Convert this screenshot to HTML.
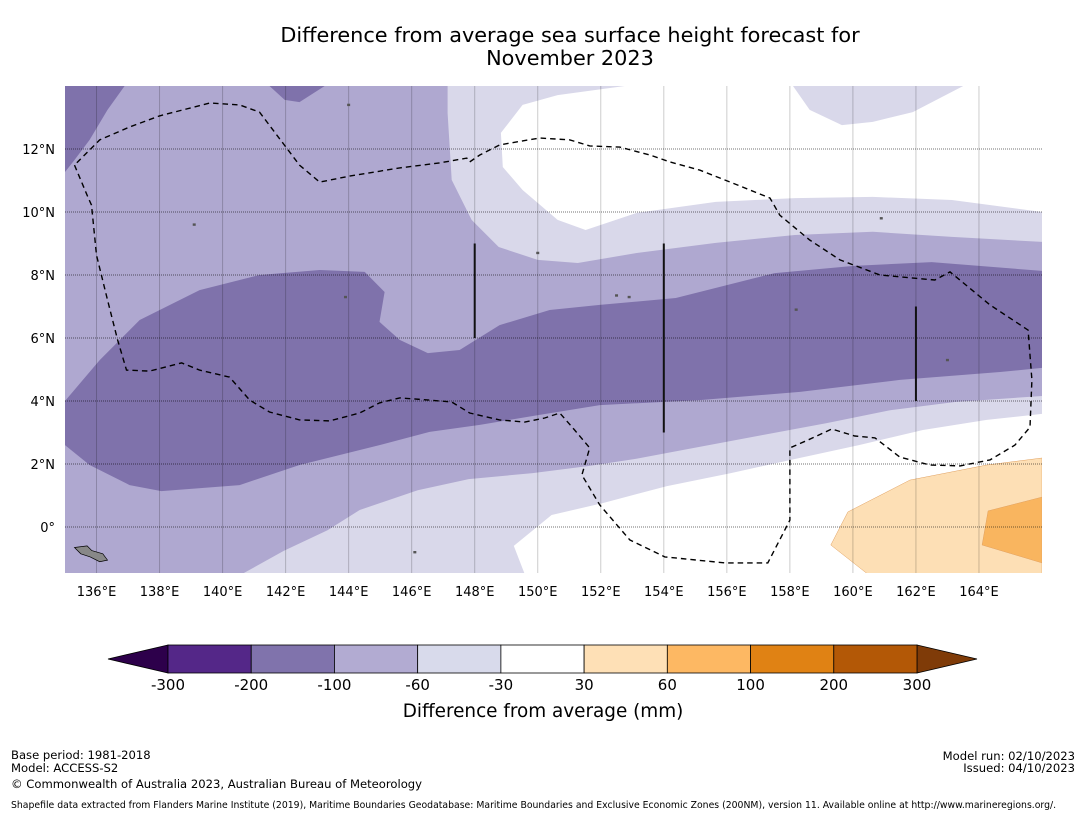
<!DOCTYPE html>
<html><head><meta charset="utf-8"><style>
body{margin:0;background:#fff;font-family:"Liberation Sans","DejaVu Sans",sans-serif;}
svg{display:block}
</style></head><body>
<svg id="chart" width="1085" height="816" viewBox="0 0 1085 816">
<text x="570" y="42" font-size="20.8" text-anchor="middle" font-family="DejaVu Sans, Liberation Sans, sans-serif">Difference from average sea surface height forecast for</text>
<text x="570" y="65" font-size="20.8" text-anchor="middle" font-family="DejaVu Sans, Liberation Sans, sans-serif">November 2023</text>
<defs><clipPath id="mapclip"><rect x="65" y="86" width="977" height="487"/></clipPath></defs>
<g id="map" clip-path="url(#mapclip)"></g>
<g id="grid"></g>
<g id="overlay" clip-path="url(#mapclip)"></g>
<g id="axes"></g>
<g id="colorbar"></g>
<text x="543" y="717" font-size="18.4" text-anchor="middle" font-family="DejaVu Sans, Liberation Sans, sans-serif">Difference from average (mm)</text>
<g font-size="11.6" font-family="DejaVu Sans, Liberation Sans, sans-serif">
<text x="11" y="759">Base period: 1981-2018</text>
<text x="11" y="772">Model: ACCESS-S2</text>
<text x="11" y="788">© Commonwealth of Australia 2023, Australian Bureau of Meteorology</text>
<text x="1075" y="760" text-anchor="end">Model run: 02/10/2023</text>
<text x="1075" y="772" text-anchor="end">Issued: 04/10/2023</text>
<text x="11" y="808" font-size="9.3">Shapefile data extracted from Flanders Marine Institute (2019), Maritime Boundaries Geodatabase: Maritime Boundaries and Exclusive Economic Zones (200NM), version 11. Available online at http://www.marineregions.org/.</text>
</g>
</svg>
<script>
const lonMin=135, lonMax=166, latMin=-1.46, latMax=14;
const lonTicks=[136,138,140,142,144,146,148,150,152,154,156,158,160,162,164];
const latTicks=[0,2,4,6,8,10,12];
const latLabels=["0°","2°N","4°N","6°N","8°N","10°N","12°N"];
const cbBounds=[-300,-200,-100,-60,-30,30,60,100,200,300];
const cbColors=["#542788","#8073ac","#b2abd2","#d8daeb","#ffffff","#fee0b6","#fdb863","#e08214","#b35806"];
const cbExtColors=["#2d004b","#7f3b08"];
const baseColor="#afa8d0";
const topLeftDark=[[135,14],[136.89,14],[136.35,13.24],[135.78,12.29],[135.3,11.65],[135,11.27]];
const topBumpDark=[[141.49,14],[143.24,14],[142.44,13.49],[141.97,13.56]];
const topLight=[[147.14,14],[147.14,13.14],[147.27,11.02],[147.9,9.75],[148.76,8.89],[150,8.48],[151.27,8.38],[153.14,8.7],[155.65,9.02],[158.16,9.27],[160.63,9.37],[163.14,9.21],[166,9.05],[166,14]];
const topWhite=[[152.76,14],[150.63,13.71],[149.52,13.4],[148.83,12.51],[148.89,11.43],[149.52,10.7],[150.63,9.75],[151.52,9.43],[153.14,9.97],[155.65,10.32],[158.16,10.44],[160.63,10.48],[163.14,10.38],[166,10],[166,14]];
const topBlob=[[158.1,14],[158.63,13.24],[159.65,12.76],[160.63,12.86],[161.9,13.17],[163.5,14]];
const bottomLight=[[140.6,-1.5],[141.94,-0.76],[143.33,-0.1],[144.35,0.54],[146.19,1.17],[147.81,1.52],[149.84,1.71],[151.65,1.94],[153.08,2.16],[155.11,2.54],[157.14,2.92],[159.17,3.3],[161.21,3.71],[163.24,3.97],[166,4.16],[166,-1.5]];
const bottomWhite=[[149.59,-1.5],[149.24,-0.6],[150.44,0.38],[152.06,0.76],[154.1,1.3],[156.13,1.71],[158.16,2.16],[160.19,2.6],[162.22,3.08],[164.25,3.4],[166,3.59],[166,-1.5]];
const darkBand=[[135,4.0],[136.1,5.3],[137.37,6.57],[139.27,7.52],[141.17,8.0],[143.08,8.16],[144.51,8.1],[145.14,7.46],[144.98,6.51],[145.62,5.94],[146.51,5.52],[147.52,5.62],[148.79,6.41],[150.38,6.89],[151.97,7.05],[154.38,7.27],[157.52,8.06],[160.03,8.29],[162.5,8.41],[166,8.13],[166,5.05],[164.67,4.92],[161.49,4.67],[158.32,4.29],[155.14,4.03],[151.97,3.87],[150.06,3.56],[148.16,3.24],[146.57,3.02],[144.98,2.6],[142.44,1.97],[140.54,1.33],[138.06,1.14],[137.05,1.33],[135.78,1.97],[135,2.6]];
const lightOrange=[[160.48,-1.5],[159.3,-0.57],[159.84,0.48],[161.81,1.49],[164.25,1.97],[166,2.19],[166,-1.5]];
const darkOrange=[[164.1,-0.57],[164.29,0.51],[166,0.95],[166,-1.14]];
const eez=[[135.3,11.49],[135.71,10.51],[135.84,10.22],[136,8.63],[136.35,7.21],[136.67,5.94],[136.95,4.98],[137.68,4.95],[138.7,5.21],[139.27,4.98],[140.22,4.76],[140.86,4.03],[141.49,3.65],[142.44,3.4],[143.4,3.37],[144.35,3.62],[144.98,3.94],[145.62,4.1],[146.57,4.03],[147.27,3.97],[147.84,3.62],[148.79,3.4],[149.59,3.33],[150.22,3.46],[150.7,3.62],[151.17,3.08],[151.65,2.51],[151.4,1.65],[151.97,0.7],[152.92,-0.41],[154.03,-0.95],[155.94,-1.14],[157.3,-1.14],[158,0.22],[158,2.51],[158.57,2.76],[159.33,3.11],[160.06,2.89],[160.7,2.83],[161.49,2.22],[162.44,1.97],[163.4,1.94],[164.35,2.13],[165.14,2.6],[165.62,3.17],[165.68,4.67],[165.56,6.25],[164.35,7.05],[163.08,8.1],[162.6,7.84],[160.86,8.0],[159.59,8.48],[158.63,9.11],[157.68,9.9],[157.37,10.44],[156.41,10.83],[155.14,11.33],[154.19,11.59],[153.56,11.81],[152.6,12.06],[151.65,12.1],[151.02,12.29],[150.06,12.35],[148.79,12.13],[148.16,11.81],[147.84,11.59],[147.75,11.71],[146.89,11.56],[145.62,11.4],[144.03,11.14],[143.08,10.95],[142.44,11.49],[141.17,13.17],[140.54,13.4],[139.59,13.46],[138,13.05],[137.05,12.7],[136.1,12.29],[135.3,11.49]];
const meridianLines=[[148,9,6],[154,9,3],[162,7,4]];
const islands=[[144.0,13.4],[152.9,7.3],[152.5,7.35],[158.2,6.9],[163.0,5.3],[139.1,9.6],[143.9,7.3],[160.9,9.8],[146.1,-0.8],[150.0,8.7]];
const bigIsland=[[135.3,-0.65],[135.7,-0.6],[135.85,-0.75],[136.2,-0.85],[136.35,-1.05],[136.1,-1.1],[135.8,-0.95],[135.5,-0.85]];

const NS="http://www.w3.org/2000/svg";
const X=lon=>65+(lon-lonMin)*(977/(lonMax-lonMin));
const Y=lat=>86+(latMax-lat)*(487/(latMax-latMin));
function mk(tag,parent,attrs){const e=document.createElementNS(NS,tag);for(const k in attrs)e.setAttribute(k,attrs[k]);parent.appendChild(e);return e;}
const pts=a=>a.map(p=>X(p[0]).toFixed(1)+","+Y(p[1]).toFixed(1)).join(" ");
const map=document.getElementById("map");
let r=mk("rect",map,{x:65,y:86,width:977,height:487,fill:baseColor});


const layers=[[topLight,"#d9d8ea","contour-top-light"],[topWhite,"#ffffff","contour-top-white"],[topBlob,"#d9d8ea","contour-top-blob"],[bottomLight,"#d9d8ea","contour-bottom-light"],[bottomWhite,"#ffffff","contour-bottom-white"],[darkBand,"#7f72ab","contour-dark-band"],[topLeftDark,"#7f72ab","contour-topleft-dark"],[topBumpDark,"#7f72ab","contour-top-bump"],[lightOrange,"#fddfb5","contour-light-orange"],[darkOrange,"#f9b55f","contour-dark-orange"]];
layers.forEach(l=>{const e=mk("polygon",map,{points:pts(l[0]),fill:l[1]});


if(l[2].indexOf("orange")>=0)e.setAttribute("stroke","#e0a060"),e.setAttribute("stroke-width","0.5");});
const grid=document.getElementById("grid");
lonTicks.forEach(t=>{const e=mk("line",grid,{x1:X(t),x2:X(t),y1:86,y2:573,stroke:"rgba(0,0,0,0.2)","stroke-width":1});

});
latTicks.forEach(t=>{const e=mk("line",grid,{x1:65,x2:1042,y1:Y(t),y2:Y(t),stroke:"rgba(0,0,0,0.55)","stroke-width":1,"stroke-dasharray":"1,1"});

});
const ov=document.getElementById("overlay");
let pl=mk("polyline",ov,{points:pts(eez),fill:"none",stroke:"#000","stroke-width":1.4,"stroke-dasharray":"5.5,4"});


meridianLines.forEach(m=>{const e=mk("line",ov,{x1:X(m[0]),x2:X(m[0]),y1:Y(m[1]),y2:Y(m[2]),stroke:"#111","stroke-width":2});

});
islands.forEach(p=>{const e=mk("rect",ov,{x:X(p[0])-1.5,y:Y(p[1])-1.2,width:3,height:2.4,fill:"#555"});

});
let bi=mk("polygon",ov,{points:pts(bigIsland),fill:"#888",stroke:"#000","stroke-width":0.7});


const axes=document.getElementById("axes");
lonTicks.forEach(t=>{const e=mk("text",axes,{x:X(t),y:596,"font-size":13,"text-anchor":"middle","font-family":"DejaVu Sans, Liberation Sans, sans-serif"});e.textContent=t+"°E";

});
latTicks.forEach((t,i)=>{const e=mk("text",axes,{x:55,y:Y(t)+5,"font-size":13,"text-anchor":"end","font-family":"DejaVu Sans, Liberation Sans, sans-serif"});e.textContent=latLabels[i];

});
const cb=document.getElementById("colorbar");
const cbX0=168,cbX1=917,cbY=645,cbH=28,seg=(cbX1-cbX0)/cbColors.length;
let t1=mk("polygon",cb,{points:`${cbX0},${cbY} 108,${cbY+cbH/2} ${cbX0},${cbY+cbH}`,fill:cbExtColors[0],stroke:"#000","stroke-width":0.8});


let t2=mk("polygon",cb,{points:`${cbX1},${cbY} 977,${cbY+cbH/2} ${cbX1},${cbY+cbH}`,fill:cbExtColors[1],stroke:"#000","stroke-width":0.8});


cbColors.forEach((c,i)=>{const e=mk("rect",cb,{x:cbX0+i*seg,y:cbY,width:seg,height:cbH,fill:c,stroke:"#000","stroke-width":0.8});

});
cbBounds.forEach((b,i)=>{const e=mk("text",cb,{x:cbX0+i*seg,y:690,"font-size":15,"text-anchor":"middle","font-family":"DejaVu Sans, Liberation Sans, sans-serif"});e.textContent=b;

});
</script>
</body></html>
